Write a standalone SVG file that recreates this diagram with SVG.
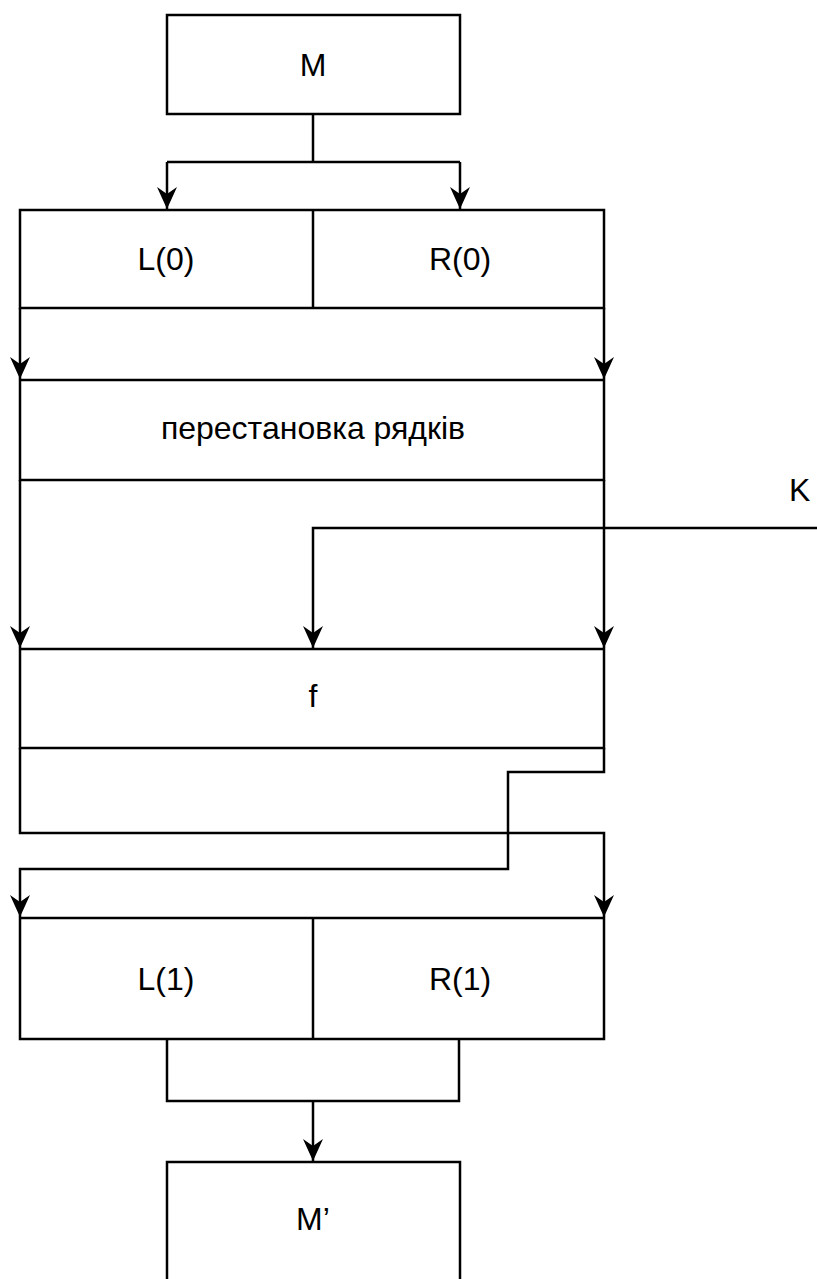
<svg xmlns="http://www.w3.org/2000/svg" width="817" height="1279" viewBox="0 0 817 1279">
  <style>
    .box { fill: #ffffff; stroke: #000000; stroke-width: 2.5; }
    .ln { fill: none; stroke: #000000; stroke-width: 2.5; }
    .lbl { font-family: "Liberation Sans", Arial, sans-serif; font-size: 32px; fill: #000000; text-anchor: middle; }
    .arr { fill: none; stroke: #000000; stroke-width: 2.5; marker-end: url(#ah); }
  </style>
  <defs>
    <marker id="ah" markerUnits="userSpaceOnUse" viewBox="0 -12 24 24" markerWidth="24" markerHeight="24" refX="22" refY="0" orient="auto">
      <path d="M0,-10 L22,0 L0,10 L7,0 Z" fill="#000000"/>
    </marker>
  </defs>
  <rect width="817" height="1279" fill="#ffffff"/>

  <g id="connectors">
    <path class="ln" d="M313,114 V162 M167,162 H460"/>
    <path class="arr" d="M167,162 V209"/>
    <path class="arr" d="M460,162 V209"/>
    <path class="arr" d="M20,308 V379"/>
    <path class="arr" d="M604,308 V379"/>
    <path class="arr" d="M20,480 V648"/>
    <path class="arr" d="M604,480 V648"/>
    <path class="arr" d="M817,528 H313 V648"/>
    <path class="arr" d="M20,748 V833 H604 V917"/>
    <path class="arr" d="M604,748 V772 H508 V869 H20 V917"/>
    <path class="ln" d="M167,1039 V1101 H459 V1039"/>
    <path class="arr" d="M313,1101 V1161"/>
    <text class="lbl" x="789" y="501" style="text-anchor:start">K</text>
  </g>

  <g id="node-M">
    <rect class="box" x="167" y="15" width="293" height="99"/>
    <text class="lbl" x="313" y="76">M</text>
  </g>

  <g id="node-LR0">
    <rect class="box" x="20" y="210" width="584" height="98"/>
    <line class="ln" x1="313" y1="210" x2="313" y2="308"/>
    <text class="lbl" x="166" y="270">L(0)</text>
    <text class="lbl" x="460" y="270">R(0)</text>
  </g>

  <g id="node-perm">
    <rect class="box" x="20" y="380" width="584" height="100"/>
    <text class="lbl" x="313" y="439">перестановка рядків</text>
  </g>

  <g id="node-f">
    <rect class="box" x="20" y="649" width="584" height="99"/>
    <text class="lbl" x="313" y="707">f</text>
  </g>

  <g id="node-LR1">
    <rect class="box" x="20" y="918" width="584" height="121"/>
    <line class="ln" x1="313" y1="918" x2="313" y2="1039"/>
    <text class="lbl" x="166" y="990">L(1)</text>
    <text class="lbl" x="460" y="990">R(1)</text>
  </g>

  <g id="node-Mprime">
    <rect class="box" x="167" y="1162" width="293" height="140"/>
    <text class="lbl" x="313" y="1230">M’</text>
  </g>
</svg>
